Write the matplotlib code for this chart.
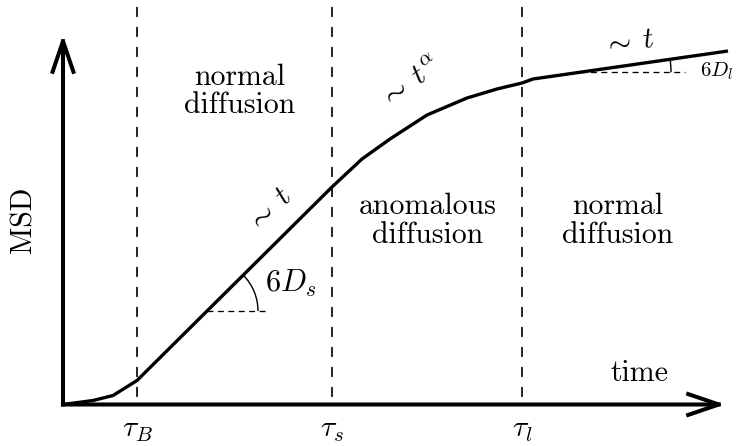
import numpy as np
import matplotlib
matplotlib.use('Agg')
import matplotlib.pyplot as plt
from matplotlib.patches import FancyArrowPatch, Arc

plt.rcParams['mathtext.fontset'] = 'cm'
plt.rcParams['lines.scale_dashes'] = False

# ---- schematic data (arbitrary units) ----
time = [0, 30, 50, 74, 269, 299, 327, 364, 404, 434, 459, 470, 665]
msd = [0, 4, 9, 24, 217.5, 245.5, 265.5, 289.5, 306.5, 315.5, 321.5, 325.5, 353.5]
tau_values = [74, 269, 459]
tau_labels = [r'$\tau_B$', r'$\tau_s$', r'$\tau_l$']
regime_labels = ['normal\ndiffusion', 'anomalous\ndiffusion', 'normal\ndiffusion']
slope_labels = [r'$\sim\;t$', r'$\sim\;t^{\alpha}$', r'$\sim\;t$']
coef_labels = [r'$6D_s$', r'$6D_l$']

# ---- layout / style ----
XMIN, XMAX = -63, 674
YMIN, YMAX = -41.5, 404.5
x_tip, y_tip = 662, 369.5
regime_pos = [(176.5, 313), (364.5, 183.5), (555, 183.5)]
slope_pos = [(206, 194.5), (347, 321.5), (566, 362.5)]
slope_rot = [45, 37, 8]
FS = 21.5
TXT = 'cmr10'

fig = plt.figure(figsize=(7.37, 4.46), dpi=100)
ax = fig.add_axes([0, 0, 1, 1])
ax.set_xlim(XMIN, XMAX)
ax.set_ylim(YMIN, YMAX)
ax.axis('off')

# dashed time markers
for tv in tau_values:
    ax.plot([tv, tv], [YMAX, 0], color='black', lw=1.2,
            linestyle=(9.4, (7.2, 7.2)), zorder=1)

# curve
ax.plot(time, msd, color='black', lw=2.4, solid_joinstyle='round',
        solid_capstyle='butt', zorder=3)

# axes arrows
astyle = '->,head_length=22,head_width=7.5'
for posB in [(0, y_tip), (x_tip, 0)]:
    ax.add_patch(FancyArrowPatch(posA=(0, 0), posB=posB, arrowstyle=astyle,
                                 mutation_scale=1, lw=2.9, color='black',
                                 shrinkA=0, shrinkB=0, zorder=4,
                                 capstyle='projecting'))

# slope angle markers
def seg_slope(i0, i1):
    return (msd[i1] - msd[i0]) / (time[i1] - time[i0])

small_dash = (0, (4.3, 3.2))
# 6D_s
tc = 144
mc = np.interp(tc, time, msd)
ang = np.degrees(np.arctan(seg_slope(3, 4)))
ax.plot([tc, tc + 61], [mc, mc], color='black', lw=0.95, linestyle=small_dash, zorder=2)
ax.add_patch(Arc((tc, mc), 102, 102, theta1=0, theta2=ang, color='black', lw=1.0))
ax.text(202, 112.5, coef_labels[0], fontsize=22, ha='left', va='baseline')

# 6D_l
tc2 = 517
mc2 = np.interp(tc2, time, msd)
ang2 = np.degrees(np.arctan(seg_slope(11, 12)))
ax.plot([tc2, 622], [mc2, mc2], color='black', lw=0.95, linestyle=small_dash, zorder=2)
ax.add_patch(Arc((tc2, mc2), 182, 182, theta1=0, theta2=ang2, color='black', lw=1.0))
ax.text(637, 327.8, coef_labels[1], fontsize=15, ha='left', va='baseline')

# slope labels
for lab, (px, py), rot in zip(slope_labels, slope_pos, slope_rot):
    ax.text(px, py, lab, fontsize=FS, ha='center', va='center', rotation=rot)

# regime labels
for lab, (px, py) in zip(regime_labels, regime_pos):
    ax.text(px, py, lab, fontsize=FS, ha='center', va='center',
            family=TXT, linespacing=1.05)

# tau labels
for tv, lab in zip(tau_values, tau_labels):
    ax.text(tv, -32.5, lab, fontsize=FS, ha='center', va='baseline')

# axis labels
ax.text(-39, 184.5, 'MSD', fontsize=FS, family=TXT, rotation=90,
        ha='center', va='center')
ax.text(576, 31.5, 'time', fontsize=FS, family=TXT, ha='center', va='center')

fig.savefig('out.png', dpi=100)
